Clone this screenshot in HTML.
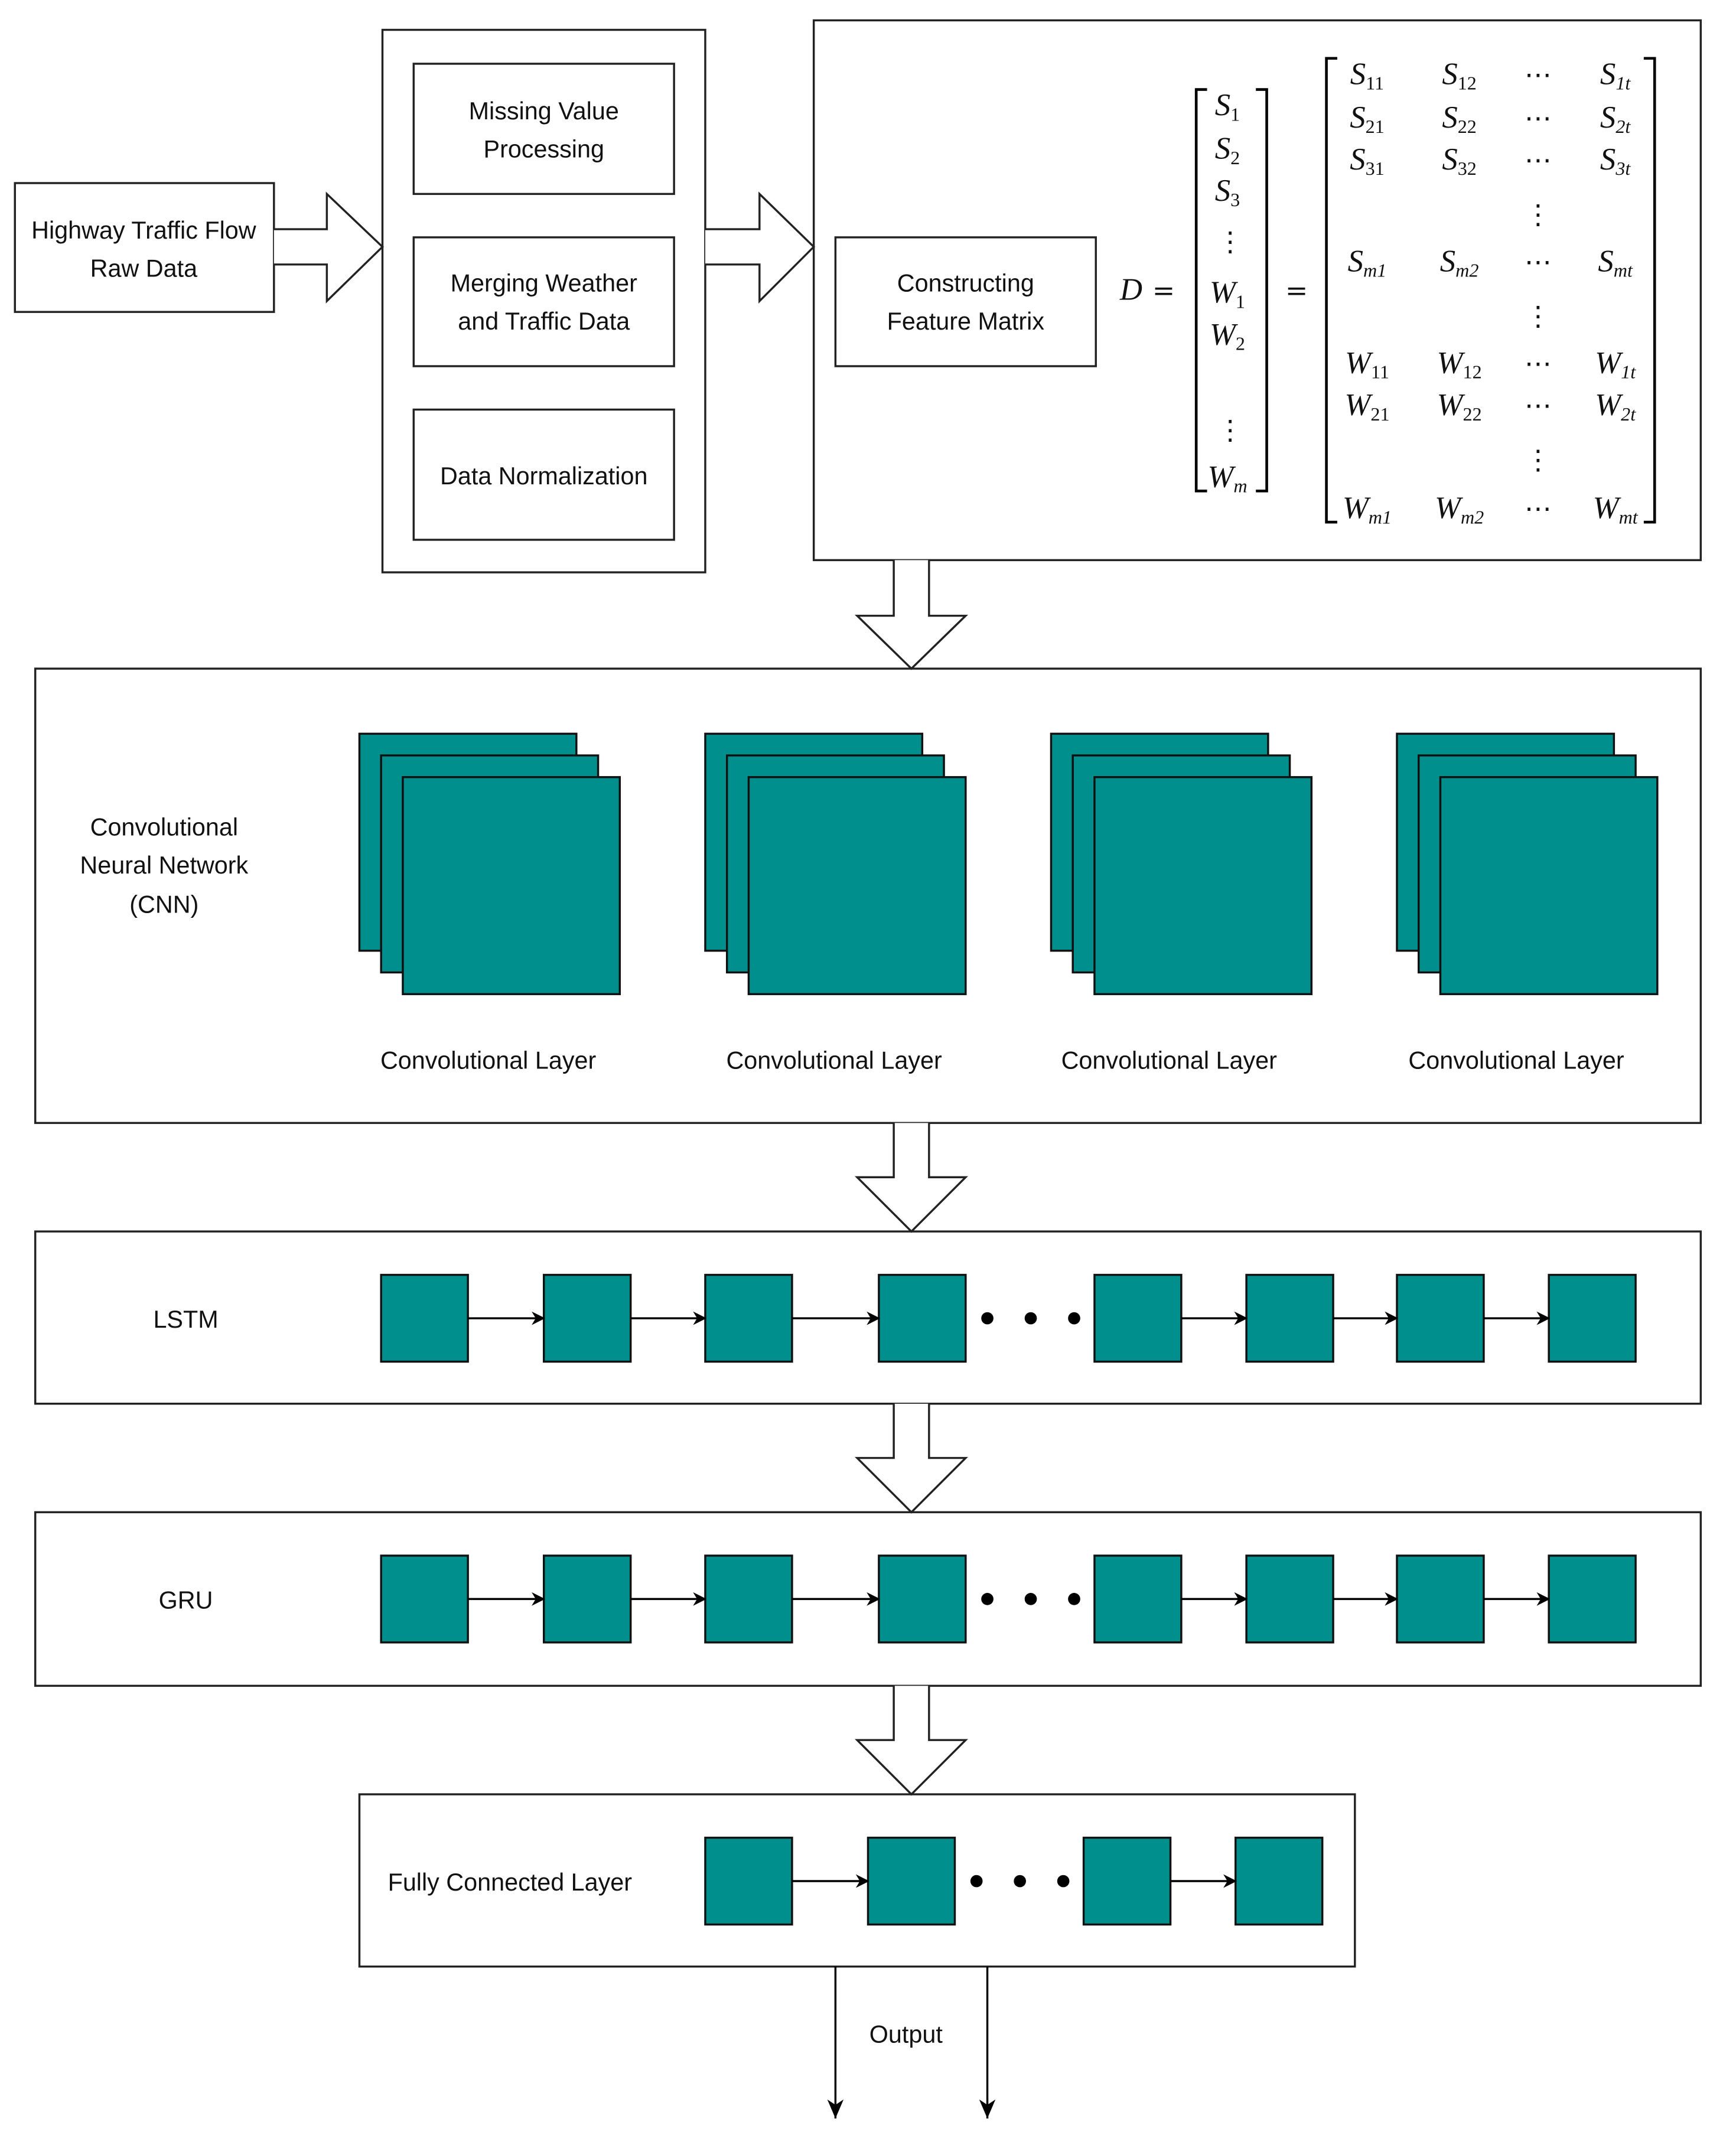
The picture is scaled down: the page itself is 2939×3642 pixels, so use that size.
<!DOCTYPE html>
<html><head><meta charset="utf-8"><style>
html,body{margin:0;padding:0;background:#fff;}
svg{display:block;}
text{font-family:"Liberation Sans",sans-serif;font-size:18px;fill:#111;}
.m{font-family:"Liberation Serif",serif;font-style:italic;font-size:23px;}
.n{font-family:"DejaVu Serif",serif;font-style:normal;font-size:20px;}
.s{font-size:14px;}
</style></head><body>
<svg width="2939" height="3642" viewBox="0 0 1280 1586" preserveAspectRatio="none" xmlns="http://www.w3.org/2000/svg">
<defs>
<marker id="ah" markerWidth="10" markerHeight="10" refX="9" refY="5" orient="auto" markerUnits="userSpaceOnUse"><path d="M0,0 L10,5 L0,10 L3,5 Z" fill="#000"/></marker>
<marker id="ah2" markerWidth="14" markerHeight="12" refX="14" refY="6" orient="auto" markerUnits="userSpaceOnUse"><path d="M0,0 L14,6 L0,12 L4,6 Z" fill="#000"/></marker>
</defs>
<g fill="none" stroke="#222" stroke-width="1.5">
<rect x="11" y="135" width="191" height="95"/>
<path d="M202,169 H241 V143 L282,182 L241,222 V195 H202" fill="#fff"/>
<rect x="282" y="22" width="238" height="400"/>
<rect x="305" y="47" width="192" height="96"/>
<rect x="305" y="175" width="192" height="95"/>
<rect x="305" y="302" width="192" height="96"/>
<path d="M520,169 H560 V143 L600,182 L560,222 V195 H520" fill="#fff"/>
<rect x="600" y="15" width="654" height="398"/>
<rect x="616" y="175" width="192" height="95"/>
<path d="M890,66 H882 V362 H890 M926,66 H934 V362 H926" stroke="#000" stroke-width="2"/>
<path d="M986,43 H978 V385 H986 M1212,43 H1220 V385 H1212" stroke="#000" stroke-width="2"/>
<rect x="26" y="493" width="1228" height="335"/>
<rect x="26" y="908" width="1228" height="127"/>
<rect x="26" y="1115" width="1228" height="128"/>
<rect x="265" y="1323" width="734" height="127"/>
</g>
<g fill="#fff" stroke="#222" stroke-width="1.5">
<path d="M659,413 V454 H632 L672,493 L712,454 H685 V413"/>
<path d="M659,828 V868 H632 L672,908 L712,868 H685 V828"/>
<path d="M659,1035 V1075 H632 L672,1115 L712,1075 H685 V1035"/>
<path d="M659,1243 V1283 H632 L672,1323 L712,1283 H685 V1243"/>
</g>
<g text-anchor="middle">
<text x="106" y="176">Highway Traffic Flow</text>
<text x="106" y="204">Raw Data</text>
<text x="401" y="88">Missing Value</text>
<text x="401" y="116">Processing</text>
<text x="401" y="215">Merging Weather</text>
<text x="401" y="243">and Traffic Data</text>
<text x="401" y="357">Data Normalization</text>
<text x="712" y="215">Constructing</text>
<text x="712" y="243">Feature Matrix</text>
<text x="121" y="616">Convolutional</text>
<text x="121" y="644">Neural Network</text>
<text x="121" y="673">(CNN)</text>
<text x="360" y="788">Convolutional Layer</text>
<text x="615" y="788">Convolutional Layer</text>
<text x="862" y="788">Convolutional Layer</text>
<text x="1118" y="788">Convolutional Layer</text>
<text x="137" y="979">LSTM</text>
<text x="137" y="1186">GRU</text>
<text x="376" y="1394">Fully Connected Layer</text>
<text x="668" y="1506">Output</text>
</g>
<g text-anchor="middle">
<text class="m" x="834" y="221">D</text>
<text class="n" x="858" y="221">=</text>
<text class="n" x="956" y="221">=</text>
<text class="m" x="905" y="85">S<tspan class="s" font-style="normal" dy="4">1</tspan></text>
<text class="m" x="905" y="117">S<tspan class="s" font-style="normal" dy="4">2</tspan></text>
<text class="m" x="905" y="148">S<tspan class="s" font-style="normal" dy="4">3</tspan></text>
<text class="n" x="907" y="185">⋮</text>
<text class="m" x="905" y="223">W<tspan class="s" font-style="normal" dy="4">1</tspan></text>
<text class="m" x="905" y="254">W<tspan class="s" font-style="normal" dy="4">2</tspan></text>
<text class="n" x="907" y="324">⋮</text>
<text class="m" x="905" y="359">W<tspan class="s" dy="4">m</tspan></text>
</g>
<g text-anchor="middle">
<text class="m" x="1008" y="62">S<tspan class="s" font-style="normal" dy="4">11</tspan></text>
<text class="m" x="1076" y="62">S<tspan class="s" font-style="normal" dy="4">12</tspan></text>
<text class="n" x="1134" y="62">⋯</text>
<text class="m" x="1191" y="62">S<tspan class="s" dy="4">1t</tspan></text>
<text class="m" x="1008" y="94">S<tspan class="s" font-style="normal" dy="4">21</tspan></text>
<text class="m" x="1076" y="94">S<tspan class="s" font-style="normal" dy="4">22</tspan></text>
<text class="n" x="1134" y="94">⋯</text>
<text class="m" x="1191" y="94">S<tspan class="s" dy="4">2t</tspan></text>
<text class="m" x="1008" y="125">S<tspan class="s" font-style="normal" dy="4">31</tspan></text>
<text class="m" x="1076" y="125">S<tspan class="s" font-style="normal" dy="4">32</tspan></text>
<text class="n" x="1134" y="125">⋯</text>
<text class="m" x="1191" y="125">S<tspan class="s" dy="4">3t</tspan></text>
<text class="n" x="1134" y="165">⋮</text>
<text class="m" x="1008" y="200">S<tspan class="s" dy="4">m1</tspan></text>
<text class="m" x="1076" y="200">S<tspan class="s" dy="4">m2</tspan></text>
<text class="n" x="1134" y="200">⋯</text>
<text class="m" x="1191" y="200">S<tspan class="s" dy="4">mt</tspan></text>
<text class="n" x="1134" y="240">⋮</text>
<text class="m" x="1008" y="275">W<tspan class="s" font-style="normal" dy="4">11</tspan></text>
<text class="m" x="1076" y="275">W<tspan class="s" font-style="normal" dy="4">12</tspan></text>
<text class="n" x="1134" y="275">⋯</text>
<text class="m" x="1191" y="275">W<tspan class="s" dy="4">1t</tspan></text>
<text class="m" x="1008" y="306">W<tspan class="s" font-style="normal" dy="4">21</tspan></text>
<text class="m" x="1076" y="306">W<tspan class="s" font-style="normal" dy="4">22</tspan></text>
<text class="n" x="1134" y="306">⋯</text>
<text class="m" x="1191" y="306">W<tspan class="s" dy="4">2t</tspan></text>
<text class="n" x="1134" y="346">⋮</text>
<text class="m" x="1008" y="382">W<tspan class="s" dy="4">m1</tspan></text>
<text class="m" x="1076" y="382">W<tspan class="s" dy="4">m2</tspan></text>
<text class="n" x="1134" y="382">⋯</text>
<text class="m" x="1191" y="382">W<tspan class="s" dy="4">mt</tspan></text>
</g>
<g fill="#008f8c" stroke="#111" stroke-width="1.5">
<rect x="265" y="541" width="160" height="160"/><rect x="281" y="557" width="160" height="160"/><rect x="297" y="573" width="160" height="160"/>
<rect x="520" y="541" width="160" height="160"/><rect x="536" y="557" width="160" height="160"/><rect x="552" y="573" width="160" height="160"/>
<rect x="775" y="541" width="160" height="160"/><rect x="791" y="557" width="160" height="160"/><rect x="807" y="573" width="160" height="160"/>
<rect x="1030" y="541" width="160" height="160"/><rect x="1046" y="557" width="160" height="160"/><rect x="1062" y="573" width="160" height="160"/>
</g>
<g fill="#008f8c" stroke="#111" stroke-width="1.5">
<rect x="281" y="940" width="64" height="64"/><rect x="401" y="940" width="64" height="64"/><rect x="520" y="940" width="64" height="64"/><rect x="648" y="940" width="64" height="64"/>
<rect x="807" y="940" width="64" height="64"/><rect x="919" y="940" width="64" height="64"/><rect x="1030" y="940" width="64" height="64"/><rect x="1142" y="940" width="64" height="64"/>
<rect x="281" y="1147" width="64" height="64"/><rect x="401" y="1147" width="64" height="64"/><rect x="520" y="1147" width="64" height="64"/><rect x="648" y="1147" width="64" height="64"/>
<rect x="807" y="1147" width="64" height="64"/><rect x="919" y="1147" width="64" height="64"/><rect x="1030" y="1147" width="64" height="64"/><rect x="1142" y="1147" width="64" height="64"/>
<rect x="520" y="1355" width="64" height="64"/><rect x="640" y="1355" width="64" height="64"/><rect x="799" y="1355" width="64" height="64"/><rect x="911" y="1355" width="64" height="64"/>
</g>
<g stroke="#000" stroke-width="1.5" marker-end="url(#ah)">
<line x1="345" y1="972" x2="401" y2="972"/><line x1="465" y1="972" x2="520" y2="972"/><line x1="584" y1="972" x2="648" y2="972"/>
<line x1="871" y1="972" x2="919" y2="972"/><line x1="983" y1="972" x2="1030" y2="972"/><line x1="1094" y1="972" x2="1142" y2="972"/>
<line x1="345" y1="1179" x2="401" y2="1179"/><line x1="465" y1="1179" x2="520" y2="1179"/><line x1="584" y1="1179" x2="648" y2="1179"/>
<line x1="871" y1="1179" x2="919" y2="1179"/><line x1="983" y1="1179" x2="1030" y2="1179"/><line x1="1094" y1="1179" x2="1142" y2="1179"/>
<line x1="584" y1="1387" x2="640" y2="1387"/><line x1="863" y1="1387" x2="911" y2="1387"/>
</g>
<g stroke="#000" stroke-width="1.5" marker-end="url(#ah2)">
<line x1="616" y1="1450" x2="616" y2="1562"/><line x1="728" y1="1450" x2="728" y2="1562"/>
</g>
<g fill="#000">
<circle cx="728" cy="972" r="4.5"/><circle cx="760" cy="972" r="4.5"/><circle cx="792" cy="972" r="4.5"/>
<circle cx="728" cy="1179" r="4.5"/><circle cx="760" cy="1179" r="4.5"/><circle cx="792" cy="1179" r="4.5"/>
<circle cx="720" cy="1387" r="4.5"/><circle cx="752" cy="1387" r="4.5"/><circle cx="784" cy="1387" r="4.5"/>
</g>
</svg>
</body></html>
